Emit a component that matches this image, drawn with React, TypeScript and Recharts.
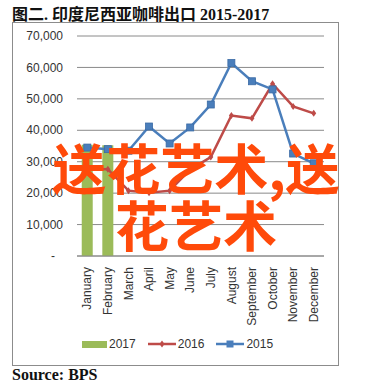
import React from "react";
import {
    Bar,
    CartesianGrid,
    ComposedChart,
    Line,
    XAxis,
    YAxis,
} from "recharts";

const months = [
    "January", "February", "March", "April", "May", "June",
    "July", "August", "September", "October", "November", "December",
];
const exports2017 = [35400, 35200, null, null, null, null, null, null, null, null, null, null];
const exports2016 = [27800, 27600, 20800, 20100, 20800, 27500, 31500, 44700, 43800, 54800, 47600, 45400];
const exports2015 = [34500, 34000, 33500, 41200, 35800, 40900, 48200, 61400, 55600, 53000, 32600, 29500];
const yTicks = [0, 10000, 20000, 30000, 40000, 50000, 60000, 70000];

const rows = months.map((m, i) => ({
    month: m,
    y2017: exports2017[i],
    y2016: exports2016[i],
    y2015: exports2015[i],
}));

const GREEN = "#9bbb59";
const RED = "#be4b48";
const BLUE = "#4a7ebb";
const GRID = "#8a8a8a";
const LABEL = "#333";
const AXIS_FONT = "'Liberation Sans', Arial, sans-serif";

function YTick({ x, y, payload }: any) {
    const v = payload.value;
    return (
        <text x={v === 0 ? x - 14 : x - 6} y={y} dy="0.35em" textAnchor="end" fontSize={12} fill={LABEL} fontFamily={AXIS_FONT}>
            {v === 0 ? "-" : v.toLocaleString("en-US")}
        </text>
    );
}

function XTick({ x, y, payload }: any) {
    return (
        <text
            transform={`translate(${x},${y + 3}) rotate(-90)`}
            dy="0.35em"
            textAnchor="end"
            fontSize={12}
            fill={LABEL}
            fontFamily={AXIS_FONT}
        >
            {payload.value}
        </text>
    );
}

function SquareDot({ cx, cy }: any) {
    if (cx == null || cy == null) return null;
    return <rect x={cx - 3.5} y={cy - 3.5} width={7} height={7} fill={BLUE} stroke="#3a6aa5" strokeWidth={0.8} />;
}

function DiamondDot({ cx, cy }: any) {
    if (cx == null || cy == null) return null;
    return <path d={`M${cx},${cy - 3.5}L${cx + 2.5},${cy}L${cx},${cy + 3.5}L${cx - 2.5},${cy}Z`} fill={RED} />;
}

function LegendRow() {
    const item = { display: "flex", alignItems: "center", marginRight: 12 } as const;
    const txt = { fontFamily: AXIS_FONT, fontSize: 12, color: LABEL, marginLeft: 2 };
    return (
        <div style={{ position: "absolute", left: 69, top: 314, display: "flex", alignItems: "center" }}>
            <div style={item}>
                <div style={{ width: 25, height: 7, background: GREEN }} />
                <span style={txt}>2017</span>
            </div>
            <div style={item}>
                <svg width={28} height={10}>
                    <line x1={0} y1={5} x2={28} y2={5} stroke={RED} strokeWidth={2.5} />
                    <path d="M14,1.5L16.5,5L14,8.5L11.5,5Z" fill={RED} />
                </svg>
                <span style={txt}>2016</span>
            </div>
            <div style={item}>
                <svg width={28} height={10}>
                    <line x1={0} y1={5} x2={28} y2={5} stroke={BLUE} strokeWidth={2.5} />
                    <rect x={10.5} y={1.5} width={7} height={7} fill={BLUE} />
                </svg>
                <span style={txt}>2015</span>
            </div>
        </div>
    );
}

export default function App() {
    return (
        <div style={{ position: "absolute", left: 0, top: 0, width: 389, height: 388, background: "#fff", overflow: "hidden" }}>
            <div
                style={{
                    position: "absolute",
                    left: 12,
                    top: 1,
                    fontFamily: "'Liberation Serif', 'Noto Sans CJK SC', serif",
                    fontWeight: 700,
                    fontSize: 16,
                    color: "#111",
                    whiteSpace: "nowrap",
                }}
            >
                图二. 印度尼西亚咖啡出口 2015-2017
            </div>

            <div style={{ position: "absolute", left: 12, top: 22, width: 325, height: 342, border: "1px solid #8c8c8c" }}>
                <ComposedChart
                    width={325}
                    height={342}
                    data={rows}
                    margin={{ top: 13, right: 14, left: 0, bottom: 34 }}
                    barCategoryGap="23%"
                >
                    <CartesianGrid vertical={false} stroke={GRID} strokeWidth={1} />
                    <XAxis
                        dataKey="month"
                        interval={0}
                        height={75}
                        tick={<XTick />}
                        tickLine={false}
                        axisLine={{ stroke: GRID }}
                    />
                    <YAxis
                        width={64}
                        domain={[0, 70000]}
                        ticks={yTicks}
                        tick={<YTick />}
                        tickLine={false}
                        axisLine={false}
                    />
                    <Bar dataKey="y2017" fill={GREEN} isAnimationActive={false} />
                    <Line
                        dataKey="y2016"
                        stroke={RED}
                        strokeWidth={2.5}
                        dot={<DiamondDot />}
                        activeDot={false}
                        isAnimationActive={false}
                    />
                    <Line
                        dataKey="y2015"
                        stroke={BLUE}
                        strokeWidth={2.5}
                        dot={<SquareDot />}
                        activeDot={false}
                        isAnimationActive={false}
                    />
                </ComposedChart>
                <LegendRow />
            </div>

            <div
                style={{
                    position: "absolute",
                    left: 0,
                    top: 138,
                    width: 392,
                    textAlign: "center",
                    fontFamily: "'Noto Sans CJK SC', sans-serif",
                    fontWeight: 700,
                    fontSize: 54,
                    lineHeight: "57px",
                    color: "#ff4a0a",
                    pointerEvents: "none",
                }}
            >
                <div>送花艺术,送</div>
                <div>花艺术</div>
            </div>

            <div
                style={{
                    position: "absolute",
                    left: 12,
                    top: 366,
                    fontFamily: "'Liberation Serif', serif",
                    fontWeight: 700,
                    fontSize: 16,
                    color: "#111",
                }}
            >
                Source: BPS
            </div>
        </div>
    );
}
